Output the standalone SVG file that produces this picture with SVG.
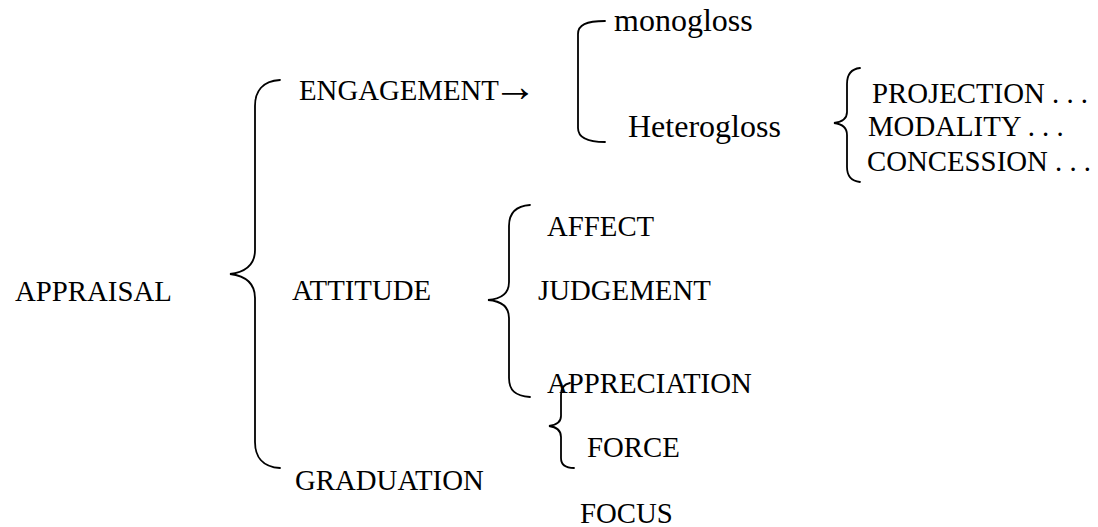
<svg xmlns="http://www.w3.org/2000/svg" width="1098" height="527" viewBox="0 0 1098 527">
<style>
text { font-family: "Liberation Serif", "Times New Roman", serif; font-size: 28.8px; fill: #000; }
.lc { font-size: 32px; }
.arr { font-size: 44px; }
.br { fill: none; stroke: #000; stroke-width: 1.8; stroke-linecap: round; }
</style>
<rect width="1098" height="527" fill="#fff"/>
<g id="connectors">
<path class="br" d="M280,80 C262,81 255,92 255,106 L255,250 C255,265 246,272 230,274 C246,276 255,283 255,298 L255,442 C255,456 262,467 280,468"/>
<path class="br" d="M605,21 C586,21 578,25 578,34 L578,128 C578,137 586,142 605,142"/>
<path class="br" d="M860,68 C851,69 847,75 847,84 L847,112 C847,119 842,122 834,123 C842,124 847,128 847,135 L847,167 C847,176 851,181 860,182"/>
<path class="br" d="M530,205 C515,206 509,214 509,226 L509,282 C509,293 501,299 488,300 C501,301 509,307 509,318 L509,378 C509,390 515,396 530,397"/>
<path class="br" d="M570,383 C564,384 561,388 561,395 L561,416 C561,422 557,425 549,426 C557,427 561,431 561,437 L561,458 C561,465 566,468 574,468"/>
</g>
<g id="appraisal"><text x="15" y="301">APPRAISAL</text></g>
<g id="engagement"><text x="299" y="100">ENGAGEMENT<tspan class="arr" dx="-6" dy="1">→</tspan></text></g>
<g id="attitude"><text x="292" y="300">ATTITUDE</text></g>
<g id="graduation"><text x="295" y="490">GRADUATION</text></g>
<g id="monogloss"><text class="lc" x="614" y="31">monogloss</text></g>
<g id="heterogloss"><text class="lc" x="628" y="137">Heterogloss</text></g>
<g id="projection"><text x="872" y="103">PROJECTION . . .</text></g>
<g id="modality"><text x="868" y="136">MODALITY . . .</text></g>
<g id="concession"><text x="867" y="171">CONCESSION . . .</text></g>
<g id="affect"><text x="547" y="236">AFFECT</text></g>
<g id="judgement"><text x="538" y="300">JUDGEMENT</text></g>
<g id="appreciation"><text x="547" y="393">APPRECIATION</text></g>
<g id="force"><text x="587" y="457">FORCE</text></g>
<g id="focus"><text x="580" y="523">FOCUS</text></g>
</svg>
